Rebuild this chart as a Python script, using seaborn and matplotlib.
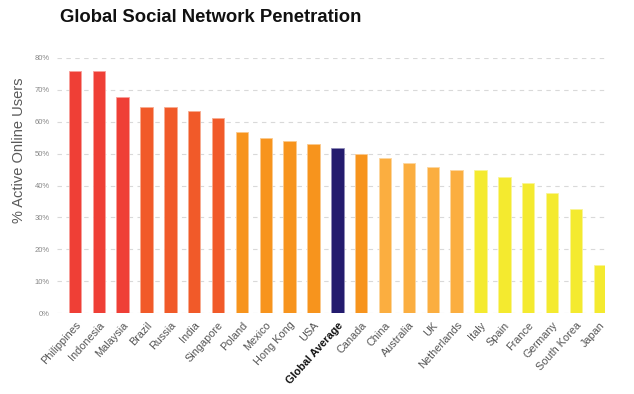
import matplotlib
matplotlib.use("Agg")
import matplotlib.pyplot as plt
import seaborn as sns
import pandas as pd

# --- data ---
countries = ['Philippines', 'Indonesia', 'Malaysia', 'Brazil', 'Russia', 'India',
             'Singapore', 'Poland', 'Mexico', 'Hong Kong', 'USA', 'Global Average',
             'Canada', 'China', 'Australia', 'UK', 'Netherlands', 'Italy', 'Spain',
             'France', 'Germany', 'South Korea', 'Japan']
penetration = [76.0, 76.0, 67.7, 64.6, 64.6, 63.4, 61.3, 56.8, 55.0, 53.9, 52.9, 51.8,
               49.9, 48.6, 47.1, 45.7, 44.8, 44.8, 42.6, 40.8, 37.7, 32.5, 15.1]
groups = ['a', 'a', 'a', 'b', 'b', 'b', 'b', 'c', 'c', 'c', 'c', 'avg',
          'c', 'd', 'd', 'd', 'd', 'e', 'e', 'e', 'e', 'e', 'e']

group_colors = {'a': '#ef3f36', 'b': '#f15a29', 'c': '#f7941d', 'avg': '#231b6e',
                'd': '#fbae40', 'e': '#f4ea2f'}
edge_colors = {'a': '#f8a09a', 'b': '#f8ab90', 'c': '#fbc98e', 'avg': '#8e8ab6',
               'd': '#fdd69f', 'e': '#faf597'}

df = pd.DataFrame({'Country': countries, 'Value': penetration, 'Group': groups})

sns.set_theme(style="white")
plt.rcParams['font.family'] = ['Liberation Sans', 'DejaVu Sans']

fig = plt.figure(figsize=(6.34, 3.94), dpi=100)
ax = fig.add_axes([57 / 634, 1 - 313 / 394, 548 / 634, 255 / 394])

palette = [group_colors[g] for g in groups]
sns.barplot(data=df, x='Country', y='Value', hue='Country', palette=palette,
            legend=False, width=0.52, ax=ax, zorder=3, saturation=1)

# light rim round each bar
for p, g in zip(ax.patches, groups):
    p.set_edgecolor(edge_colors[g])
    p.set_linewidth(0.6)

ax.set_ylim(0, 80)
ax.set_xlim(-0.75, len(countries) - 0.78)
ax.set_yticks(range(0, 81, 10))
ax.set_yticklabels([f'{v}%' for v in range(0, 81, 10)], fontsize=5.5, color='#888888')
ax.yaxis.grid(True, linestyle=(0, (4, 4)), color='#d9d9d9', linewidth=0.8, zorder=0)
ax.tick_params(axis='y', length=0, pad=5)
ax.tick_params(axis='x', length=0, pad=5)

for s in ax.spines.values():
    s.set_visible(False)

ax.set_xticks(range(len(countries)))
ax.set_xticklabels(countries, rotation=48, ha='right', va='top', rotation_mode='anchor',
                   fontsize=7.8, color='#555555')
for lbl in ax.get_xticklabels():
    if lbl.get_text() == 'Global Average':
        lbl.set_fontweight('bold')
        lbl.set_color('#111111')

ax.set_xlabel('')
ax.set_ylabel('% Active Online Users', fontsize=10.5, color='#5a5a5a')
ax.yaxis.set_label_coords(-0.056, 0.64)

fig.text(60 / 634, 1 - 22 / 394, 'Global Social Network Penetration',
         fontsize=13.3, fontweight='bold', color='#111111', ha='left', va='baseline')

fig.savefig('out.png', dpi=100)
